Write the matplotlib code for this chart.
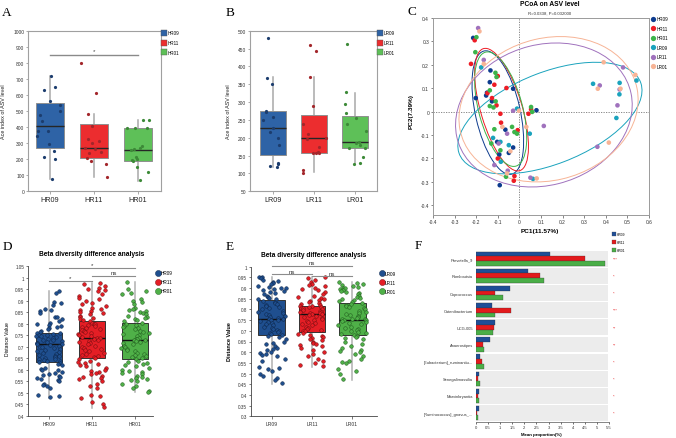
import numpy as np
import matplotlib
matplotlib.use('Agg')
import matplotlib.pyplot as plt
from matplotlib.patches import Ellipse
from matplotlib.lines import Line2D
from matplotlib.ticker import FormatStrFormatter, MultipleLocator
import seaborn as sns

plt.rcParams['font.family'] = ['Liberation Sans', 'DejaVu Sans']

# ---------------- data ----------------
groups_H = ['HR09', 'HR11', 'HR01']
groups_L = ['LR09', 'LR11', 'LR01']

# Panel A: Ace index (HR)
A_q1 = [270, 207, 191]
A_med = [409, 268, 259]
A_q3 = [550, 420, 392]
A_lo = [77, 87, 66]
A_hi = [716, 481, 446]
A_HR09 = [716, 649, 633, 564, 537, 502, 477, 437, 378, 377, 342, 292, 249, 211, 200, 79]
A_HR11 = [800, 610, 480, 405, 325, 315, 300, 268, 262, 245, 237, 210, 190, 172, 88]
A_HR01 = [447, 443, 396, 395, 393, 283, 270, 262, 255, 215, 200, 196, 190, 153, 120, 70]

# Panel B: Ace index (LR)
B_q1 = [153, 157, 170]
B_med = [226, 198, 189]
B_q3 = [274, 264, 260]
B_lo = [117, 103, 129]
B_hi = [369, 369, 326]
B_LR09 = [479, 368, 352, 274, 273, 259, 251, 227, 217, 198, 180, 128, 126, 120, 118]
B_LR11 = [460, 444, 371, 288, 238, 211, 199, 196, 175, 160, 157, 157, 157, 110, 101]
B_LR01 = [462, 329, 296, 269, 255, 239, 218, 188, 185, 180, 170, 170, 147, 128, 127]

# Panel C: PCoA coordinates
C_HR09_x = [-0.214, -0.134, -0.137, -0.029, -0.154, -0.202, -0.127, 0.079, -0.065, -0.103, -0.029, -0.049, -0.093, -0.091, -0.150]
C_HR09_y = [0.315, 0.176, 0.126, 0.098, 0.069, 0.058, 0.044, 0.006, -0.077, -0.129, -0.153, -0.176, -0.183, -0.314, 0.081]
C_HR11_x = [-0.207, -0.224, -0.100, -0.060, -0.116, -0.148, -0.127, -0.106, 0.042, 0.054, -0.088, -0.085, -0.008, -0.100, -0.023, -0.026]
C_HR11_y = [0.305, 0.204, 0.152, 0.101, 0.115, 0.079, 0.058, 0.027, -0.009, 0.010, -0.009, -0.047, -0.079, -0.200, -0.275, -0.295]
C_HR01_x = [-0.199, -0.204, -0.111, -0.106, -0.137, -0.110, -0.137, -0.120, 0.054, 0.059, -0.034, -0.023, -0.011, -0.116, -0.130, -0.088, -0.062]
C_HR01_y = [0.318, 0.254, 0.166, 0.148, 0.091, 0.044, 0.024, 0.018, 0.020, -0.001, -0.065, -0.087, -0.094, -0.075, -0.136, -0.165, -0.278]
C_LR09_x = [-0.177, -0.011, 0.048, -0.122, -0.088, -0.049, -0.086, 0.063, 0.341, 0.464, 0.542, 0.463, 0.449]
C_LR09_y = [0.189, 0.013, -0.094, -0.112, -0.129, -0.143, -0.214, -0.287, 0.119, 0.123, 0.133, 0.074, -0.027]
C_LR11_x = [-0.191, -0.165, -0.029, -0.057, 0.113, -0.096, -0.116, -0.054, 0.051, 0.480, 0.372, 0.464, 0.454, 0.361]
C_LR11_y = [0.357, 0.221, 0.004, -0.094, -0.061, -0.136, -0.228, -0.252, -0.282, 0.189, 0.112, 0.095, 0.027, -0.150]
C_LR01_x = [-0.185, -0.165, -0.002, -0.079, 0.032, -0.042, -0.057, 0.080, 0.390, 0.537, 0.363, 0.468, 0.414]
C_LR01_y = [0.343, 0.204, 0.004, -0.065, -0.065, -0.169, -0.264, -0.285, 0.211, 0.157, 0.098, 0.098, -0.132]

# Panel D: beta distances (HR)
D_q1 = [0.635, 0.65, 0.645]
D_med = [0.71, 0.74, 0.73]
D_q3 = [0.76, 0.81, 0.805]
D_lo = [0.48, 0.435, 0.505]
D_hi = [0.94, 0.975, 0.98]
D_HR09 = [0.94, 0.935, 0.895, 0.89, 0.88, 0.865, 0.86, 0.855, 0.845, 0.83, 0.83, 0.82, 0.81, 0.805, 0.80, 0.795,
          0.79, 0.785, 0.78, 0.775, 0.77, 0.765,
          0.76, 0.758, 0.755, 0.752, 0.75, 0.748, 0.745, 0.742, 0.74, 0.735, 0.73, 0.728, 0.725, 0.72, 0.718,
          0.715, 0.712, 0.71, 0.708, 0.705, 0.70, 0.698, 0.695, 0.69, 0.685, 0.68, 0.678, 0.675, 0.67, 0.665,
          0.66, 0.658, 0.655, 0.65, 0.648, 0.645, 0.642, 0.64, 0.638, 0.636,
          0.63, 0.625, 0.62, 0.61, 0.605, 0.60, 0.598, 0.59, 0.585, 0.58, 0.578, 0.575, 0.57, 0.565, 0.56,
          0.555, 0.55, 0.54, 0.535, 0.53, 0.52, 0.49, 0.485, 0.483]
D_HR11 = [0.975, 0.97, 0.965, 0.955, 0.95, 0.945, 0.94, 0.93, 0.92, 0.91, 0.905, 0.90, 0.89, 0.885, 0.875,
          0.87, 0.865, 0.86, 0.855, 0.85, 0.845, 0.84, 0.835, 0.83, 0.825, 0.82, 0.815,
          0.81, 0.805, 0.80, 0.798, 0.795, 0.79, 0.785, 0.78, 0.776, 0.772, 0.77, 0.765, 0.76, 0.755, 0.75,
          0.745, 0.742, 0.74, 0.738, 0.735, 0.73, 0.725, 0.72, 0.715, 0.71, 0.705, 0.70, 0.695, 0.69, 0.685,
          0.68, 0.675, 0.67, 0.665, 0.66, 0.655, 0.652,
          0.645, 0.64, 0.635, 0.63, 0.625, 0.62, 0.615, 0.61, 0.60, 0.595, 0.59, 0.585, 0.58, 0.575, 0.57,
          0.565, 0.56, 0.55, 0.54, 0.53, 0.52, 0.49, 0.485, 0.48, 0.46, 0.45, 0.438]
D_HR01 = [0.98, 0.95, 0.94, 0.935, 0.93, 0.905, 0.90, 0.895, 0.885, 0.87, 0.865, 0.86, 0.855, 0.85, 0.845,
          0.84, 0.835, 0.83, 0.825, 0.82, 0.815, 0.81,
          0.805, 0.80, 0.795, 0.79, 0.785, 0.78, 0.775, 0.77, 0.765, 0.76, 0.755, 0.75, 0.745, 0.74, 0.735,
          0.732, 0.73, 0.728, 0.725, 0.72, 0.715, 0.71, 0.705, 0.70, 0.695, 0.69, 0.685, 0.68, 0.675, 0.67,
          0.665, 0.66, 0.655, 0.65, 0.648,
          0.64, 0.635, 0.63, 0.625, 0.62, 0.615, 0.61, 0.60, 0.595, 0.59, 0.585, 0.58, 0.575, 0.57, 0.565,
          0.56, 0.555, 0.55, 0.54, 0.53, 0.52, 0.51, 0.505]

# Panel E: beta distances (LR)
E_q1 = [0.68, 0.696, 0.68]
E_med = [0.755, 0.779, 0.752]
E_q3 = [0.844, 0.818, 0.83]
E_lo = [0.451, 0.532, 0.47]
E_hi = [0.953, 0.953, 0.93]
E_LR09 = [0.953, 0.95, 0.945, 0.94, 0.935, 0.93, 0.925, 0.92, 0.91, 0.905, 0.90, 0.90, 0.895, 0.89, 0.885,
          0.88, 0.875, 0.87, 0.865, 0.86, 0.855, 0.85, 0.848,
          0.84, 0.835, 0.83, 0.825, 0.82, 0.815, 0.81, 0.805, 0.80, 0.795, 0.79, 0.785, 0.78, 0.775, 0.77,
          0.765, 0.76, 0.757, 0.755, 0.752, 0.75, 0.745, 0.74, 0.735, 0.73, 0.725, 0.72, 0.715, 0.71, 0.705,
          0.70, 0.695, 0.69, 0.685, 0.682,
          0.675, 0.67, 0.66, 0.65, 0.645, 0.64, 0.63, 0.62, 0.615, 0.61, 0.60, 0.595, 0.59, 0.585, 0.58,
          0.57, 0.56, 0.53, 0.525, 0.52, 0.51, 0.50, 0.49, 0.48, 0.47, 0.455]
E_LR11 = [0.953, 0.945, 0.94, 0.93, 0.92, 0.915, 0.91, 0.90, 0.895, 0.89, 0.88, 0.87, 0.865, 0.86, 0.855,
          0.85, 0.845, 0.84, 0.835, 0.83, 0.825, 0.82,
          0.818, 0.815, 0.812, 0.81, 0.808, 0.805, 0.80, 0.798, 0.795, 0.79, 0.788, 0.785, 0.782, 0.78, 0.778,
          0.775, 0.77, 0.765, 0.76, 0.755, 0.75, 0.745, 0.74, 0.735, 0.73, 0.725, 0.72, 0.715, 0.71, 0.705,
          0.70, 0.698,
          0.69, 0.685, 0.68, 0.675, 0.67, 0.665, 0.66, 0.655, 0.65, 0.645, 0.64, 0.635, 0.63, 0.62, 0.61,
          0.60, 0.59, 0.58, 0.57, 0.56, 0.55, 0.54, 0.535]
E_LR01 = [0.93, 0.925, 0.92, 0.915, 0.91, 0.905, 0.90, 0.90, 0.895, 0.89, 0.885, 0.88, 0.875, 0.87, 0.865,
          0.86, 0.855, 0.85, 0.845, 0.84, 0.835,
          0.83, 0.825, 0.82, 0.815, 0.81, 0.805, 0.80, 0.795, 0.79, 0.785, 0.78, 0.775, 0.77, 0.765, 0.76,
          0.757, 0.755, 0.753, 0.752, 0.75, 0.745, 0.74, 0.735, 0.73, 0.725, 0.72, 0.715, 0.71, 0.705, 0.70,
          0.695, 0.69, 0.685, 0.682,
          0.675, 0.67, 0.665, 0.66, 0.65, 0.64, 0.63, 0.62, 0.61, 0.605, 0.60, 0.59, 0.58, 0.57, 0.56,
          0.555, 0.55, 0.52, 0.51, 0.50, 0.475]

# Panel F: mean proportions
F_taxa = ['Prevotella_9', 'Romboutsia', 'Coprococcus', 'Catenibacterium', 'UCG-005', 'Anaerostipes',
          '[Eubacterium]_ruminantiu...', 'Senegalimassilia', 'Marvinbryantia', '[Ruminococcus]_gnavus_...']
F_HR09 = [3.05, 2.13, 1.39, 0.66, 0.78, 0.59, 0.18, 0.14, 0.11, 0.11]
F_HR11 = [4.51, 2.65, 0.78, 1.43, 0.73, 0.30, 0.26, 0.07, 0.07, 0.06]
F_HR01 = [5.35, 2.81, 1.10, 0.77, 0.72, 0.32, 0.34, 0.15, 0.12, 0.10]
F_sig = ['***', '*', '*', '***', '**', '**', '*', '*', '*', '*']

# ---------------- styles ----------------
BOX_A = ['#2e63a6', '#ec2d2f', '#5ec058']
PT_A = ['#1c3d6e', '#a3262b', '#3d8a38']
BOX_D = ['#1f4f8f', '#e41e25', '#4fb048']
EDGE_D = ['#0c2447', '#6e0c10', '#1f5a1c']
PC_COL = ['#0d3b8e', '#ee1c25', '#3cb44a', '#1aa3bd', '#a072bd', '#f7b496']
F_COL = ['#1f4e97', '#e31a1c', '#4aae47']
SERIF = ['Liberation Serif', 'DejaVu Serif']

W, H = 676, 439
fig = plt.figure(figsize=(W / 100, H / 100), dpi=100)


def add_ax(l, t, r, b):
    return fig.add_axes([l / W, 1 - b / H, (r - l) / W, (b - t) / H])


def draw_boxes(ax, q1, med, q3, lo, hi, fills, width, edge, medc, whc):
    stats = [dict(q1=a, med=b, q3=c, whislo=d, whishi=e, fliers=[])
             for a, b, c, d, e in zip(q1, med, q3, lo, hi)]
    res = ax.bxp(stats, positions=[0, 1, 2], widths=width, showcaps=False, showfliers=False,
                 patch_artist=True,
                 boxprops=dict(edgecolor=edge, linewidth=0.7),
                 medianprops=dict(color=medc, linewidth=1.0),
                 whiskerprops=dict(color=whc, linewidth=1.1))
    for p, c in zip(res['boxes'], fills):
        p.set_facecolor(c)
        p.set_zorder(2)
    for w in res['whiskers']:
        w.set_zorder(1)
    for m in res['medians']:
        m.set_zorder(2.5)


def strip(ax, vals_list, colors, edges, size, lw, jitter):
    for i, (v, c, e) in enumerate(zip(vals_list, colors, edges)):
        sns.stripplot(x=np.full(len(v), i), y=np.asarray(v, float), native_scale=True, orient='v',
                      jitter=jitter, color=c, edgecolor=e, linewidth=lw, size=size, ax=ax, zorder=3)


np.random.seed(3)

# ---------------- Panel A & B ----------------
def panel_ab(ax, q1, med, q3, lo, hi, pts, names, ylim, ystep, xlim):
    draw_boxes(ax, q1, med, q3, lo, hi, BOX_A, 0.62, '#8f8f8f', '#262626', '#a8a8a8')
    strip(ax, pts, PT_A, PT_A, 2.3, 0, 0.3)
    ax.set_xlim(*xlim)
    ax.set_ylim(*ylim)
    ax.yaxis.set_major_locator(MultipleLocator(ystep))
    ax.set_xticks([0, 1, 2])
    ax.set_xticklabels(names, fontsize=5.2, color='#222222')
    ax.tick_params(axis='y', labelsize=3.5, length=1.8, width=0.5, color='#888888', pad=1, labelcolor='#333333')
    ax.tick_params(axis='x', length=1.8, width=0.5, color='#888888', pad=1.5)
    for s in ax.spines.values():
        s.set_color('#a0a0a0')
        s.set_linewidth(0.8)
    ax.set_xlabel('')
    ax.set_ylabel('Ace index of ASV level', fontsize=3.9, color='#222222')
    handles = [Line2D([], [], ls='', marker='s', ms=3.8, mfc=c, mec='#555555', mew=0.3, label=n)
               for c, n in zip(BOX_A, names)]
    ax.legend(handles=handles, loc='upper left', bbox_to_anchor=(1.005, 1.005), frameon=False,
              fontsize=3.3, handlelength=0.9, handletextpad=0.25, labelspacing=1.05,
              borderaxespad=0, borderpad=0.1)


axA = add_ax(28.3, 31.7, 161, 192.3)
panel_ab(axA, A_q1, A_med, A_q3, A_lo, A_hi, [A_HR09, A_HR11, A_HR01], groups_H, (0, 1000), 100, (-0.49, 2.52))
axA.yaxis.set_label_coords(-0.168, 0.5)
axA.plot([0, 2], [849, 849], color='#8a8a8a', lw=1.0, zorder=4)
axA.text(1, 858, '*', ha='center', va='bottom', fontsize=4.5, color='#444444')

axB = add_ax(250, 31.7, 377, 192.3)
panel_ab(axB, B_q1, B_med, B_q3, B_lo, B_hi, [B_LR09, B_LR11, B_LR01], groups_L, (50, 500), 50, (-0.56, 2.54))
axB.yaxis.set_label_coords(-0.15, 0.5)

# ---------------- Panel C ----------------
axC = add_ax(433, 19, 649, 216.4)
pcx = [C_HR09_x, C_HR11_x, C_HR01_x, C_LR09_x, C_LR11_x, C_LR01_x]
pcy = [C_HR09_y, C_HR11_y, C_HR01_y, C_LR09_y, C_LR11_y, C_LR01_y]
pnames = groups_H + groups_L
NSTD = 1.6
for x, y, c in zip(pcx, pcy, PC_COL):
    x = np.asarray(x); y = np.asarray(y)
    axC.scatter(x, y, s=11, color=c, edgecolors='none', zorder=3)
    cov = np.cov(x, y)
    vals, vecs = np.linalg.eigh(cov)
    order = vals.argsort()[::-1]
    vals, vecs = vals[order], vecs[:, order]
    ang = np.degrees(np.arctan2(vecs[1, 0], vecs[0, 0]))
    axC.add_patch(Ellipse((x.mean(), y.mean()), 2 * NSTD * np.sqrt(vals[0]), 2 * NSTD * np.sqrt(vals[1]),
                          angle=ang, fill=False, ec=c, lw=0.7, zorder=2))
axC.axvline(0, color='#777777', lw=0.6, ls=(0, (1.5, 1.5)), zorder=1)
axC.axhline(0, color='#777777', lw=0.6, ls=(0, (1.5, 1.5)), zorder=1)
axC.set_xlim(-0.4, 0.6)
axC.set_ylim(-0.443, 0.4)
axC.xaxis.set_major_locator(MultipleLocator(0.1))
axC.yaxis.set_major_locator(MultipleLocator(0.1))
axC.xaxis.set_major_formatter(FormatStrFormatter('%g'))
axC.yaxis.set_major_formatter(FormatStrFormatter('%g'))
axC.tick_params(labelsize=3.5, length=1.8, width=0.5, pad=1, color='#555555', labelcolor='#333333')
for s in axC.spines.values():
    s.set_color('#9a9a9a')
    s.set_linewidth(0.7)
axC.set_xlabel('PC1(11.57%)', fontsize=4.6, fontweight='bold')
axC.set_ylabel('PC2(7.39%)', fontsize=4.6, fontweight='bold')
axC.xaxis.set_label_coords(0.495, -0.064)
axC.yaxis.set_label_coords(-0.088, 0.53)
fig.text(550 / W, 1 - 5 / H, 'PCoA on ASV level', ha='center', va='center', fontsize=4.8, fontweight='bold')
fig.text(550 / W, 1 - 14 / H, 'R=0.0338, P=0.032000', ha='center', va='center', fontsize=3.1, color='#333333')
handles = [Line2D([], [], ls='', marker='o', ms=3.8, mfc=c, mec='none', label=n) for c, n in zip(PC_COL, pnames)]
axC.legend(handles=handles, loc='upper left', bbox_to_anchor=(1.01, 1.01), frameon=False,
           fontsize=3.3, handlelength=0.8, handletextpad=0.3, labelspacing=0.98,
           borderaxespad=0, borderpad=0.1)

# ---------------- Panel D & E ----------------
def panel_de(ax, q1, med, q3, lo, hi, pts, names, ylim, xlim, width, jitter, ylabel_bold):
    draw_boxes(ax, q1, med, q3, lo, hi, BOX_D, width, '#333333', '#111111', '#b0b0b0')
    strip(ax, pts, BOX_D, EDGE_D, 2.6, 0.35, jitter)
    ax.set_xlim(*xlim)
    ax.set_ylim(*ylim)
    ax.yaxis.set_major_locator(MultipleLocator(0.05))
    ax.yaxis.set_major_formatter(FormatStrFormatter('%g'))
    ax.set_xticks([0, 1, 2])
    ax.set_xticklabels(names, fontsize=3.6, color='#333333')
    ax.tick_params(axis='y', labelsize=3.3, length=1.8, width=0.5, pad=1, color='#444444', labelcolor='#333333')
    ax.tick_params(axis='x', length=1.8, width=0.5, pad=1.5, color='#444444')
    ax.spines['top'].set_visible(False)
    ax.spines['right'].set_visible(False)
    for s in ('left', 'bottom'):
        ax.spines[s].set_color('#444444')
        ax.spines[s].set_linewidth(0.6)
    ax.set_xlabel('')
    ax.set_ylabel('Distance Value', fontsize=4.0 if ylabel_bold else 3.6,
                  fontweight='bold' if ylabel_bold else 'normal')
    ax.set_title('Beta diversity difference analysis', fontsize=4.8, fontweight='bold', pad=8)
    handles = [Line2D([], [], ls='', marker='o', ms=4.4, mfc=c, mec=e, mew=0.3, label=n)
               for c, e, n in zip(BOX_D, EDGE_D, names)]
    ax.legend(handles=handles, loc='upper left', bbox_to_anchor=(1.02, 0.975), frameon=False,
              fontsize=3.4, handlelength=0.9, handletextpad=0.15, labelspacing=0.85,
              borderaxespad=0, borderpad=0.1)


def bracket(ax, x0, x1, y, label, fs):
    ax.plot([x0, x1], [y, y], color='#8c8c8c', lw=0.8, zorder=4, clip_on=False)
    ax.text((x0 + x1) / 2, y + 0.002, label, ha='center', va='bottom', fontsize=fs, color='#333333', clip_on=False)


axD = add_ax(28, 267, 153, 417)
panel_de(axD, D_q1, D_med, D_q3, D_lo, D_hi, [D_HR09, D_HR11, D_HR01], groups_H, (0.4, 1.05),
         (-0.49, 2.42), 0.62, 0.33, False)
axD.yaxis.set_label_coords(-0.144, 0.52)
axD.title.set_position((0.51, 1.0))
bracket(axD, 0, 2, 1.042, '*', 4.3)
bracket(axD, 1, 2, 1.007, 'ns', 4.3)
bracket(axD, 0, 1, 0.985, '*', 4.3)

axE = add_ax(251, 267.7, 377, 417.3)
panel_de(axE, E_q1, E_med, E_q3, E_lo, E_hi, [E_LR09, E_LR11, E_LR01], groups_L, (0.3, 1.0),
         (-0.52, 2.62), 0.67, 0.35, True)
axE.yaxis.set_label_coords(-0.153, 0.505)
bracket(axE, 0, 2, 1.005, 'ns', 4.3)
bracket(axE, 0, 1, 0.966, 'ns', 4.3)
bracket(axE, 1, 2, 0.955, 'ns', 4.3)

# ---------------- Panel F ----------------
axF = add_ax(476, 251, 609, 423)
ypos = np.arange(len(F_taxa))
axF.barh(ypos, [5.45] * len(F_taxa), height=0.92, color='#ececec', zorder=0)
bh = 0.28
for k, (vals, c) in enumerate(zip([F_HR09, F_HR11, F_HR01], F_COL)):
    axF.barh(ypos + (k - 1) * bh, vals, height=bh, color=c, edgecolor='#333333', linewidth=0.2, zorder=2)
axF.set_xlim(0, 5.5)
axF.set_ylim(9.52, -0.51)
axF.set_yticks(ypos)
axF.set_yticklabels(F_taxa, fontsize=2.9, color='#333333')
axF.xaxis.set_major_locator(MultipleLocator(0.5))
axF.xaxis.set_major_formatter(FormatStrFormatter('%g'))
axF.tick_params(axis='y', length=0, pad=2)
axF.tick_params(axis='x', labelsize=3.0, length=1.3, width=0.4, pad=0.8, labelcolor='#333333')
for s in ('top', 'right', 'left'):
    axF.spines[s].set_visible(False)
axF.spines['bottom'].set_linewidth(0.5)
axF.spines['bottom'].set_color('#555555')
axF.set_xlabel('Mean proportion(%)', fontsize=3.2, fontweight='bold', va='center')
axF.xaxis.set_label_coords(0.494, -0.068)
for yy, sg in zip(ypos, F_sig):
    axF.text(1.03, yy, sg, transform=axF.get_yaxis_transform(), ha='left', va='center',
             fontsize=3.0, color='#e8262a')
handles = [Line2D([], [], ls='', marker='s', ms=3.0, mfc=c, mec='#444444', mew=0.2, label=n)
           for c, n in zip(F_COL, groups_H)]
fig.legend(handles=handles, loc='upper left', bbox_to_anchor=(612 / W, 1 - 233 / H), frameon=False,
           fontsize=2.4, handlelength=0.9, handletextpad=0.3, labelspacing=1.1,
           borderaxespad=0, borderpad=0.1)

# ---------------- panel letters ----------------
for lab, x, y in [('A', 7, 13), ('B', 230, 13), ('C', 412, 12), ('D', 7, 247), ('E', 230, 247), ('F', 418, 246)]:
    fig.text(x / W, 1 - y / H, lab, ha='center', va='center', fontsize=9.5, family=SERIF)

fig.savefig('out.png', dpi=100)
